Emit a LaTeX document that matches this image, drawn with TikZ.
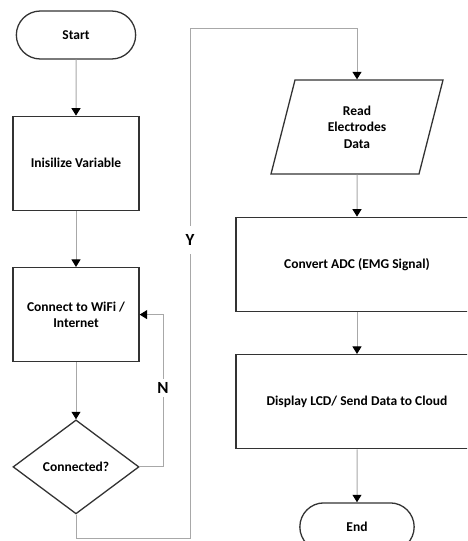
\documentclass[tikz,border=0pt]{standalone}
\usepackage{fontspec}
\setmainfont{Carlito}
\usetikzlibrary{arrows.meta,positioning,shapes.geometric,shapes.misc,calc}
\definecolor{boxline}{HTML}{333333}
\definecolor{flowline}{HTML}{A8A8A8}

\begin{document}
\begin{tikzpicture}[
    x=1pt, y=-1pt,
    font=\fontsize{13.5}{16.5}\selectfont\bfseries,
    terminal/.style={rounded rectangle, draw=boxline, line width=1.3pt, minimum width=126pt, minimum height=48pt},
    process/.style={rectangle, draw=boxline, line width=1.3pt, align=center, minimum width=126pt, minimum height=94pt},
    decision/.style={diamond, draw=boxline, line width=1.3pt, aspect=1.34, minimum width=126pt, minimum height=94pt, inner sep=0pt},
    inout/.style={trapezium, trapezium left angle=64, trapezium right angle=116, trapezium stretches body, draw=boxline, line width=1.3pt, align=center, minimum width=172pt, minimum height=94pt},
    flow/.style={draw=flowline, line width=1pt, -{Triangle[length=7.5pt, width=9pt, color=black]}},
    branch/.style={fill=white, inner sep=3pt, font=\fontsize{17}{19}\selectfont\bfseries}
  ]
    \clip (0,0) rectangle (467,541);
    \useasboundingbox (0,0) rectangle (467,541);

    \node[terminal] (start) at (76,35) {Start};
    \node[process, below=56pt of start] (init) {Inisilize Variable};
    \node[process, below=56pt of init] (wifi) {Connect to WiFi /\\Internet};
    \node[decision, below=57pt of wifi] (check) {Connected?};

    \node[inout] (read) at (357,127) {Read\\Electrodes\\Data};
    \node[process, minimum width=242pt, below=42pt of read] (adc) {Convert ADC (EMG Signal)};
    \node[process, minimum width=242pt, below=42pt of adc] (disp) {Display LCD/ Send Data to Cloud};
    \node[terminal, minimum width=121pt, below=53pt of disp] (stop) {End};

    \coordinate (ybot) at ($(check.south)+(0,24)$);
    \coordinate (ytop) at (190,28);

    \draw[flow] (start) -- (init);
    \draw[flow] (init) -- (wifi);
    \draw[flow] (wifi) -- (check);
    \draw[flow] (check.east) -- ++(24,0) |- (wifi.east);
    \draw[flow] (check.south) -- (ybot) -| (ytop) -| (read.north);
    \draw[flow] (read) -- (adc);
    \draw[flow] (adc) -- (disp);
    \draw[flow] (disp) -- (stop);

    \node[branch] (nlab) at (163,388) {N};
    \node[branch, inner ysep=8pt] (ylab) at (190,240) {Y};
  \end{tikzpicture}
\end{document}
